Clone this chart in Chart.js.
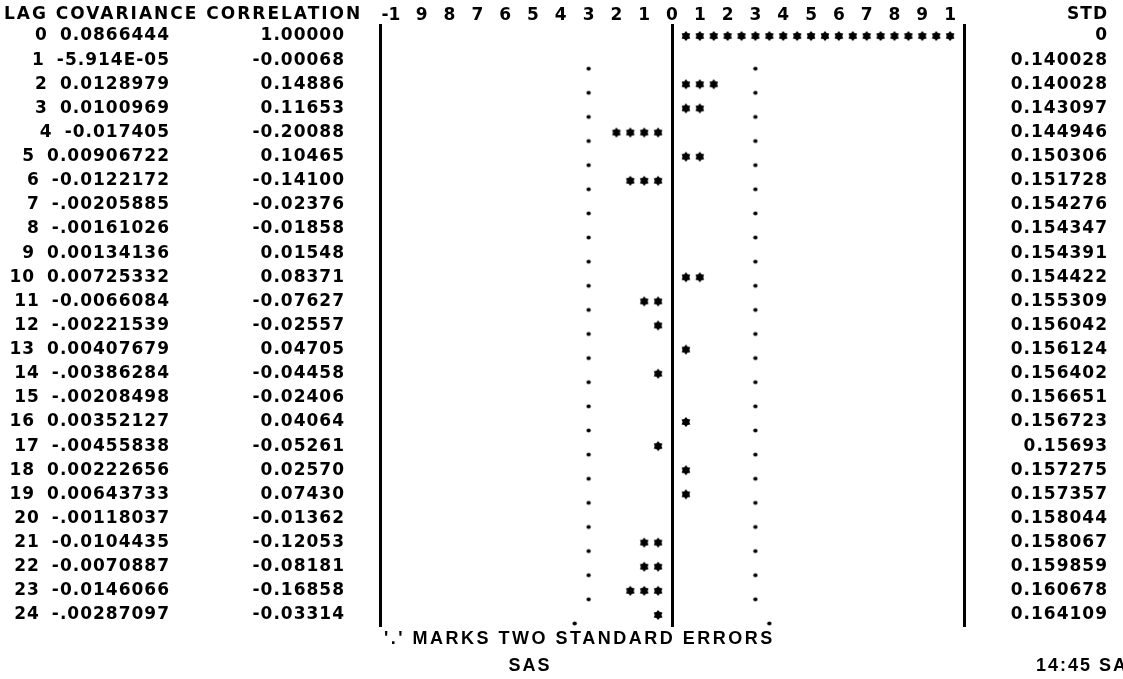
<!DOCTYPE html>
<html>
<head>
<meta charset="utf-8">
<title>SAS autocorrelations</title>
<script src="https://cdn.jsdelivr.net/npm/chart.js@4.4.1/dist/chart.umd.min.js"></script>
<style>
  html, body { margin: 0; padding: 0; background: #fff; }
</style>
</head>
<body>
<canvas id="acf" width="1123" height="679"></canvas>
<script>
// values
const lags = [0, 1, 2, 3, 4, 5, 6, 7, 8, 9, 10, 11, 12, 13, 14, 15, 16, 17, 18, 19, 20, 21, 22, 23, 24];
const covariance = ['0.0866444', '-5.914E-05', '0.0128979', '0.0100969', '-0.017405', '0.00906722',
  '-0.0122172', '-.00205885', '-.00161026', '0.00134136', '0.00725332', '-0.0066084', '-.00221539',
  '0.00407679', '-.00386284', '-.00208498', '0.00352127', '-.00455838', '0.00222656', '0.00643733',
  '-.00118037', '-0.0104435', '-0.0070887', '-0.0146066', '-.00287097'];
const correlation = [1.00000, -0.00068, 0.14886, 0.11653, -0.20088, 0.10465, -0.14100, -0.02376,
  -0.01858, 0.01548, 0.08371, -0.07627, -0.02557, 0.04705, -0.04458, -0.02406, 0.04064, -0.05261,
  0.02570, 0.07430, -0.01362, -0.12053, -0.08181, -0.16858, -0.03314];
const stdErr = [0, 0.140028, 0.140028, 0.143097, 0.144946, 0.150306, 0.151728, 0.154276, 0.154347,
  0.154391, 0.154422, 0.155309, 0.156042, 0.156124, 0.156402, 0.156651, 0.156723, 0.15693, 0.157275,
  0.157357, 0.158044, 0.158067, 0.159859, 0.160678, 0.164109];
const scaleTicks = [-1, -0.9, -0.8, -0.7, -0.6, -0.5, -0.4, -0.3, -0.2, -0.1, 0,
  0.1, 0.2, 0.3, 0.4, 0.5, 0.6, 0.7, 0.8, 0.9, 1];
const scaleLabels = ['-1 ', '9', '8', '7', '6', '5', '4', '3', '2', '1', '0',
  '1', '2', '3', '4', '5', '6', '7', '8', '9', '1'];
const frameTicks = [-1.05, 0, 1.05];

// one print column = 0.05 of correlation
const COL = 0.05;

// asterisks: one per 0.05, like the SAS plot
const starPoints = [];
correlation.forEach((r, i) => {
  const n = Math.round(Math.abs(r) / COL);
  for (let k = 1; k <= n; k++) {
    starPoints.push({ x: Math.sign(r) * k * COL, y: lags[i] });
  }
});

// '.' marks two standard errors
const dotPoints = [];
stdErr.forEach((s, i) => {
  if (s === 0) return;
  const c = Math.round(2 * s / COL);
  dotPoints.push({ x: -c * COL, y: lags[i] });
  dotPoints.push({ x: c * COL, y: lags[i] });
});

function makeStar() {
  const c = document.createElement('canvas');
  c.width = 12; c.height = 12;
  const g = c.getContext('2d');
  g.fillStyle = '#000';
  g.beginPath();
  for (let i = 0; i < 12; i++) {
    const r = i % 2 ? 3.4 : 5.0;
    const a = Math.PI / 6 * i - Math.PI / 2;
    const px = 6 + r * Math.cos(a), py = 6 + r * Math.sin(a);
    if (i) g.lineTo(px, py); else g.moveTo(px, py);
  }
  g.closePath();
  g.fill();
  return c;
}

// period sits on the baseline, below the middle of the row
function makeDot() {
  const c = document.createElement('canvas');
  c.width = 6; c.height = 26;
  const g = c.getContext('2d');
  g.fillStyle = '#000';
  g.beginPath();
  g.arc(3, 21.5, 2.1, 0, Math.PI * 2);
  g.fill();
  return c;
}

const tableFont = 'bold 17px "DejaVu Sans"';

const tablePlugin = {
  id: 'sasTable',
  afterDraw(chart) {
    const { ctx } = chart;
    const y = chart.scales.y;
    ctx.save();
    ctx.fillStyle = '#000';
    ctx.font = tableFont;
    ctx.textBaseline = 'middle';

    const headY = y.getPixelForValue(-0.9);
    ctx.letterSpacing = '2px';
    ctx.textAlign = 'left';
    ctx.fillText('LAG COVARIANCE CORRELATION', 4, headY);
    ctx.letterSpacing = '1px';
    ctx.textAlign = 'right';
    ctx.fillText('STD', 1108, headY);

    lags.forEach((lag, i) => {
      const py = y.getPixelForValue(lag);
      const cov = covariance[i];
      ctx.fillText(cov, 170, py);
      const w = ctx.measureText(cov).width;
      ctx.fillText(String(lag), 170 - w - 12, py);
      ctx.fillText(correlation[i].toFixed(5), 345, py);
      ctx.fillText(String(stdErr[i]), 1108, py);
    });

    ctx.font = 'bold 18px "Liberation Sans"';
    ctx.letterSpacing = '2.5px';
    ctx.textAlign = 'left';
    ctx.fillText("'.' MARKS TWO STANDARD ERRORS", 384, y.getPixelForValue(25));
    ctx.letterSpacing = '2px';
    ctx.textAlign = 'center';
    ctx.fillText('SAS', 530, y.getPixelForValue(26.1));
    ctx.textAlign = 'left';
    ctx.fillText('14:45 SATURDAY', 1036, y.getPixelForValue(26.1));
    ctx.restore();
  }
};

new Chart(document.getElementById('acf'), {
  type: 'scatter',
  data: {
    datasets: [{
      label: 'correlation',
      data: starPoints,
      pointStyle: makeStar(),
      pointRadius: 5,
      backgroundColor: '#000',
      borderColor: '#000'
    }, {
      label: 'two standard errors',
      data: dotPoints,
      pointStyle: makeDot(),
      pointRadius: 3,
      backgroundColor: '#000',
      borderColor: '#000'
    }]
  },
  options: {
    responsive: false,
    animation: false,
    devicePixelRatio: 1,
    layout: { padding: { left: 380, right: 159, top: 0, bottom: 52 } },
    plugins: {
      legend: { display: false },
      tooltip: { enabled: false }
    },
    scales: {
      x: {
        type: 'linear',
        position: 'top',
        min: -1.05,
        max: 1.05,
        afterBuildTicks: (s) => { s.ticks = scaleTicks.map(v => ({ value: v })); },
        afterFit: (s) => { s.height = 24; },
        grid: { display: false, drawTicks: false },
        border: { display: false },
        ticks: {
          autoSkip: false,
          maxRotation: 0,
          padding: 0,
          color: '#000',
          font: { family: 'DejaVu Sans', weight: 'bold', size: 17, lineHeight: 1 },
          callback: (v, i) => scaleLabels[i]
        }
      },
      frame: {
        axis: 'x',
        type: 'linear',
        position: 'top',
        min: -1.05,
        max: 1.05,
        afterBuildTicks: (s) => { s.ticks = frameTicks.map(v => ({ value: v })); },
        afterFit: (s) => { s.height = 0; },
        grid: { color: '#000', lineWidth: 3, drawTicks: false },
        border: { display: false },
        ticks: { display: false }
      },
      y: {
        type: 'linear',
        reverse: true,
        min: -0.5,
        max: 24.5,
        display: false
      }
    }
  },
  plugins: [tablePlugin]
});
</script>
</body>
</html>
